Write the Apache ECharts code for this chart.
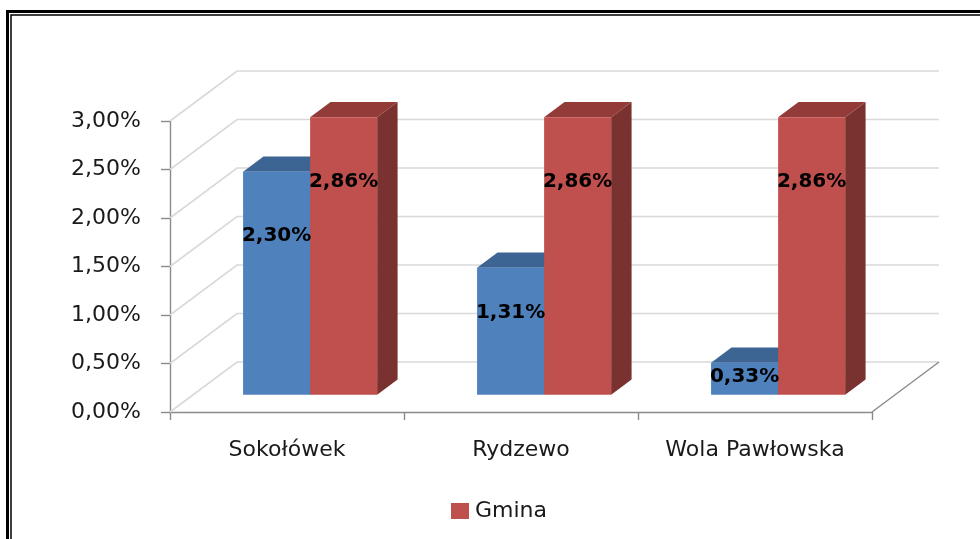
<!DOCTYPE html>
<html>
<head>
<meta charset="utf-8">
<script src="https://cdn.jsdelivr.net/npm/echarts@6/dist/echarts.min.js"></script>
<style>
html,body{margin:0;padding:0;background:#fff;}
#chart{width:980px;height:539px;}
</style>
</head>
<body>
<div id="chart"></div>
<script>
// ---- data ----
var categories = ['Sokołówek', 'Rydzewo', 'Wola Pawłowska'];
var localValues = [2.30, 1.31, 0.33];   // blue series (%)
var gminaValues = [2.86, 2.86, 2.86];   // red series "Gmina" (%)
var yTicks = [0, 0.5, 1, 1.5, 2, 2.5, 3];
var seriesNames = ['Sołectwo', 'Gmina'];

// ---- styling / 3D projection constants ----
var DX = 67, DY = -50;          // full depth vector of the 3D box
var F1 = 0.345, F2 = 0.65;      // bar front / back depth fractions
var BAR_FRAC = 0.2865;          // bar width as fraction of category band
var FONT = '"DejaVu Sans", sans-serif';

function fmt(v) { return v.toFixed(2).replace('.', ',') + '%'; }

var chart = echarts.init(document.getElementById('chart'), null, {renderer: 'canvas'});

function frameItem(params, api) {
  var cs = params.coordSys;
  var v = api.value(1);
  var y = api.coord([0, v])[1];
  var x0 = cs.x, x1 = cs.x + cs.width;
  var children = [{
    type: 'polyline',
    shape: {points: [[x0, y], [x0 + DX, y + DY], [x1 + DX, y + DY]]},
    style: {stroke: '#d9d9d9', lineWidth: 1.6, fill: null},
    silent: true
  }];
  if (v === 0) {
    children.push({
      type: 'line',
      shape: {x1: x1, y1: y, x2: x1 + DX, y2: y + DY},
      style: {stroke: '#8a8a8a', lineWidth: 1.4},
      silent: true
    });
  }
  return {type: 'group', children: children};
}

function barRenderer(sIdx, cFront, cTop, cSide) {
  return function (params, api) {
    var ci = api.value(0), v = api.value(1);
    var top = api.coord([ci, v]);
    var base = api.coord([ci, 0]);
    var band = api.size([1, 0])[0];
    var w = band * BAR_FRAC;
    var sx = DX * F1, sy = DY * F1;
    var ddx = DX * (F2 - F1), ddy = DY * (F2 - F1);
    var xL = top[0] + (sIdx === 0 ? -w : 0) + sx;
    var yt = top[1] + sy, yb = base[1] + sy;
    var h = yb - yt;
    var labelY = yt + Math.min(0.32 * h + 4, 64);
    return {
      type: 'group',
      children: [
        {type: 'polygon', z2: 1, shape: {points: [[xL + w, yt], [xL + w + ddx, yt + ddy], [xL + w + ddx, yb + ddy], [xL + w, yb]]}, style: {fill: cSide}},
        {type: 'polygon', z2: 1, shape: {points: [[xL, yt], [xL + w, yt], [xL + w + ddx, yt + ddy], [xL + ddx, yt + ddy]]}, style: {fill: cTop}},
        {type: 'rect', z2: 2, shape: {x: xL, y: yt, width: w, height: h}, style: {fill: cFront}},
        {type: 'text', z2: 100, style: {text: fmt(v), x: xL + w / 2, y: labelY, align: 'center', verticalAlign: 'middle', font: 'bold 20px ' + FONT, fill: '#000'}}
      ]
    };
  };
}

function toData(arr) { return arr.map(function (v, i) { return [i, v]; }); }

var option = {
  backgroundColor: '#ffffff',
  animation: false,
  grid: {left: 170, top: 121, width: 702, height: 291, containLabel: false},
  legend: {
    data: [{name: 'Gmina', icon: 'rect'}],
    left: 451, top: 500, padding: 0,
    itemWidth: 18, itemHeight: 16, itemGap: 10,
    textStyle: {fontFamily: FONT, fontSize: 22, color: '#1a1a1a', padding: [0, 0, 0, 1]},
    selectedMode: false
  },
  xAxis: {
    type: 'category',
    data: categories,
    boundaryGap: true,
    axisLine: {show: true, lineStyle: {color: '#8a8a8a', width: 1.4}},
    axisTick: {show: true, length: 8, lineStyle: {color: '#8a8a8a', width: 1.4}},
    axisLabel: {interval: 0, margin: 27, fontFamily: FONT, fontSize: 22, color: '#1a1a1a'},
    splitLine: {show: false}
  },
  yAxis: {
    type: 'value',
    min: 0, max: 3, interval: 0.5,
    axisLine: {show: true, lineStyle: {color: '#8a8a8a', width: 1.4}},
    axisTick: {show: true, length: 9, lineStyle: {color: '#8a8a8a', width: 1.4}},
    axisLabel: {margin: 29, fontFamily: FONT, fontSize: 22, color: '#1a1a1a', formatter: function (v) { return fmt(v); }},
    splitLine: {show: false}
  },
  graphic: [
    {type: 'rect', silent: true, shape: {x: 7.5, y: 11.5, width: 1000, height: 600}, style: {fill: null, stroke: '#000', lineWidth: 3}},
    {type: 'rect', silent: true, shape: {x: 11, y: 15, width: 1000, height: 600}, style: {fill: null, stroke: '#000', lineWidth: 1.5}}
  ],
  series: [
    {
      type: 'custom', name: 'frame', z: 1, silent: true,
      renderItem: frameItem,
      encode: {x: 0, y: 1},
      data: yTicks.map(function (t) { return [0, t]; })
    },
    {
      type: 'custom', name: seriesNames[0], z: 2, silent: true,
      itemStyle: {color: '#4f81bd'},
      renderItem: barRenderer(0, '#4f81bd', '#3c6594', '#395d89'),
      encode: {x: 0, y: 1},
      data: toData(localValues)
    },
    {
      type: 'custom', name: seriesNames[1], z: 2, silent: true,
      itemStyle: {color: '#c0504d'},
      renderItem: barRenderer(1, '#c0504d', '#923b38', '#7a3230'),
      encode: {x: 0, y: 1},
      data: toData(gminaValues)
    }
  ]
};
chart.setOption(option);
</script>
</body>
</html>
